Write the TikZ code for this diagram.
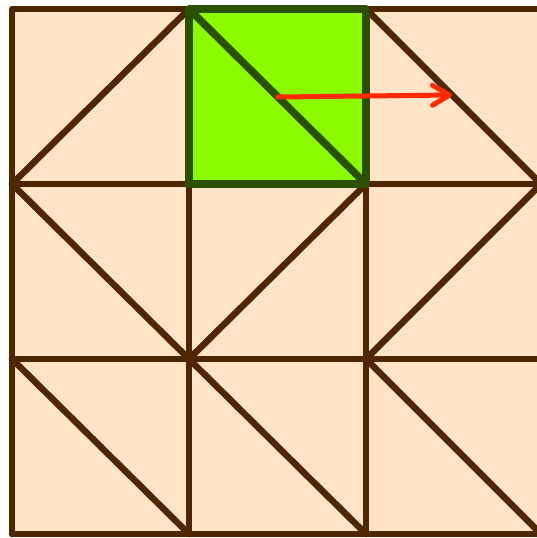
\documentclass[tikz,border=0pt]{standalone}
\usepackage[svgnames]{xcolor}
\usepackage{tikz}
\usetikzlibrary{arrows.meta}
\definecolor{pfirsich}{RGB}{255,228,200}
\definecolor{braun}{RGB}{80,38,0}
\definecolor{hellgruen}{RGB}{140,251,0}
\definecolor{dunkelgruen}{RGB}{42,80,0}
\definecolor{pfeilrot}{RGB}{255,42,0}
\tikzset{>={Straight Barb[length=17pt,width=20pt,round]}}

\begin{document}
\begin{tikzpicture}[x=1pt, y=-1pt, braun, line width=6.5pt, line cap=round, line join=round]
	\useasboundingbox (0,0) rectangle (537,538);

	\fill[pfirsich] (12,9) rectangle (550,534);

	% Gitter
	\draw (12,534) -- (12,9) -- (550,9);
	\draw (12,184) -- (550,184);
	\draw (12,359) -- (550,359);
	\draw (12,534) -- (550,534);
	\draw (189,9) -- (189,534);
	\draw (366,9) -- (366,534);

	% Diagonalen
	\draw (12,184) -- (189,9);
	\draw (366,9) -- (543,186);
	\draw (12,184) -- (189,359) -- (366,184);
	\draw (366,359) -- (543,182);
	\draw (12,359) -- (189,534);
	\draw (189,359) -- (366,534);
	\draw (366,359) -- (543,536);

	% markiertes Quadrat
	\draw[draw=dunkelgruen, fill=hellgruen, line width=7.5pt] (189,9) rectangle (366,184);
	\draw[dunkelgruen, line width=7.5pt] (189,9) -- (366,184);

	\draw[pfeilrot, line width=5pt, ->] (278,97) -- (452,95);
\end{tikzpicture}
\end{document}
